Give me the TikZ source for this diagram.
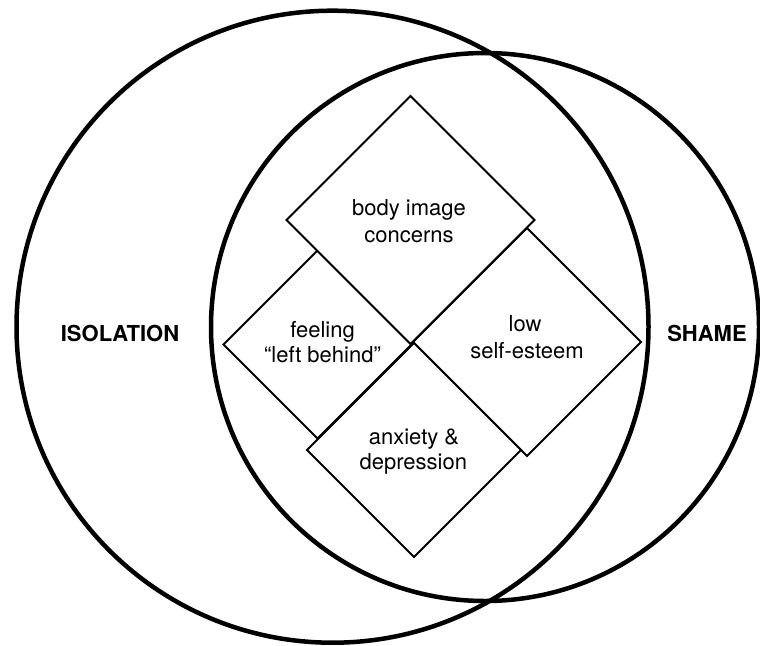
\documentclass[tikz,border=0pt]{standalone}
\usepackage{fontspec}
\setmainfont{TeX Gyre Heros}
\usetikzlibrary{shapes.geometric}
\tikzset{
  ring/.style={draw=black, line width=4.5pt},
  dia/.style={shape=diamond, draw=black, fill=white, line width=2pt, inner sep=0pt, outer sep=0pt},
  lbl/.style={anchor=base, inner sep=0pt, font=\fontsize{22}{26}\selectfont},
  big/.style={anchor=base, inner sep=0pt, font=\fontsize{22}{26}\selectfont\bfseries}
}
\begin{document}
\begin{tikzpicture}[x=1pt,y=-1pt]
\useasboundingbox[fill=white] (0,0) rectangle (760,645);
% circles
\coordinate (cl) at (332.5,326.7);
\coordinate (cr) at (485,327);
\draw[ring] (cl) circle[radius=316pt];
\draw[ring] (cr) circle[radius=274pt];
% diamonds
\node[dia, minimum width=188pt, minimum height=188pt] (left) at (317.5,344.5) {};
\node[dia, minimum width=228pt, minimum height=228pt] (right) at (527,342) {};
\node[dia, minimum width=214pt, minimum height=214pt] (bottom) at (414,450) {};
\node[dia, minimum width=248pt, minimum height=248pt] (top) at (410.5,220) {};
% labels
\node[lbl] (t1) at (409,215.7) {body image};
\node[lbl] (t2) at (409,242.3) {concerns};
\node[lbl] (l1) at (322.5,337.3) {feeling};
\node[lbl] (l2) at (322.5,362.7) {“left behind”};
\node[lbl] (r1) at (525,331.7) {low};
\node[lbl] (r2) at (527,358) {self-esteem};
\node[lbl] (b1) at (414,444) {anxiety \&};
\node[lbl] (b2) at (413.3,469.3) {depression};
\node[big] (iso) at (120,341.5) {ISOLATION};
\node[big] (sha) at (707,341.5) {SHAME};
\end{tikzpicture}
\end{document}
